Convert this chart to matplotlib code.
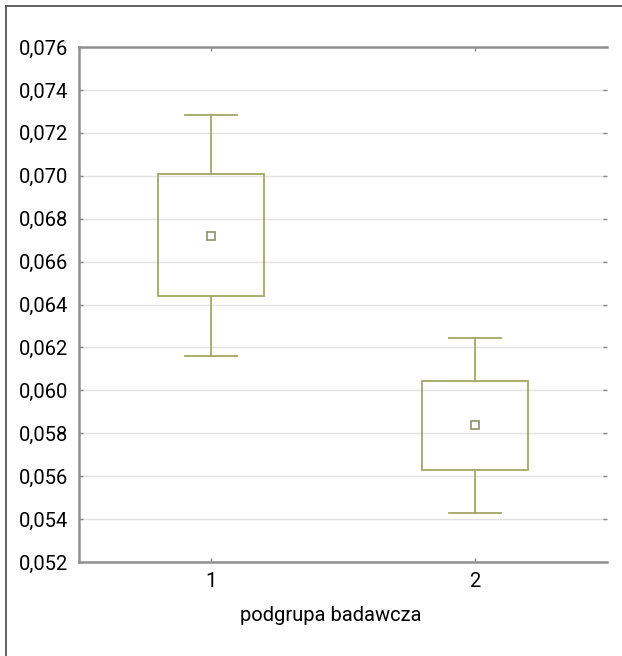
import matplotlib
matplotlib.use("Agg")
import matplotlib.pyplot as plt
from matplotlib.lines import Line2D
from matplotlib.patches import Rectangle
from matplotlib.ticker import FuncFormatter

# data
groups = [1, 2]
means = [0.06721, 0.05838]
box_low = [0.06439, 0.05630]
box_high = [0.07010, 0.06042]
whisk_low = [0.06162, 0.05427]
whisk_high = [0.07281, 0.06245]
yticks = [0.052, 0.054, 0.056, 0.058, 0.060, 0.062, 0.064, 0.066, 0.068,
          0.070, 0.072, 0.074, 0.076]

olive = "#a3a766"
plt.rcParams["font.family"] = ["Roboto", "DejaVu Sans"]

fig = plt.figure(figsize=(6.22, 6.56), dpi=100)
ax = fig.add_axes([79 / 622, 1 - 562 / 656, (607 - 79) / 622, (562 - 47) / 656])

box_w = 0.40
cap_w = 0.20
for g, m, lo, hi, wl, wh in zip(groups, means, box_low, box_high, whisk_low, whisk_high):
    ax.add_patch(Rectangle((g - box_w / 2, lo), box_w, hi - lo, fill=False,
                           edgecolor=olive, lw=1.3, zorder=3))
    ax.plot([g, g], [hi, wh], color=olive, lw=1.3, zorder=3)
    ax.plot([g, g], [wl, lo], color=olive, lw=1.3, zorder=3)
    ax.plot([g - cap_w / 2, g + cap_w / 2], [wh, wh], color=olive, lw=1.3, zorder=3)
    ax.plot([g - cap_w / 2, g + cap_w / 2], [wl, wl], color=olive, lw=1.3, zorder=3)
    ax.plot([g], [m], marker="s", ms=6, mfc="white", mec="#8e8f6a", mew=1.2, zorder=4)

ax.set_xlim(0.5, 2.5)
ax.set_ylim(0.052, 0.076)
ax.set_xticks(groups)
ax.set_yticks(yticks)
ax.yaxis.set_major_formatter(FuncFormatter(lambda v, p: f"{v:.3f}".replace(".", ",")))
ax.grid(axis="y", color="#e2e2e2", lw=1.0, zorder=0)
ax.tick_params(axis="both", direction="in", length=3, width=1, color="#888888",
               labelsize=14.5, pad=7, labelcolor="#000000")
ax.tick_params(axis="y", right=True, pad=8)
ax.tick_params(axis="x", top=True)

for s in ["top", "bottom", "left"]:
    ax.spines[s].set_color("#909090")
    ax.spines[s].set_linewidth(1.8)
ax.spines["right"].set_visible(False)

ax.set_xlabel("podgrupa badawcza", fontsize=14.5, color="#000000")
ax.xaxis.set_label_coords((331 - 79) / 528, -0.085)

# outer frame of the picture (left and top only)
fx = 6 / 622
fy = 1 - 6 / 656
fig.add_artist(Line2D([fx, fx], [0, fy], color="#555555", lw=1.3, transform=fig.transFigure))
fig.add_artist(Line2D([fx, 1], [fy, fy], color="#555555", lw=1.3, transform=fig.transFigure))

fig.savefig("out.png", dpi=100)
